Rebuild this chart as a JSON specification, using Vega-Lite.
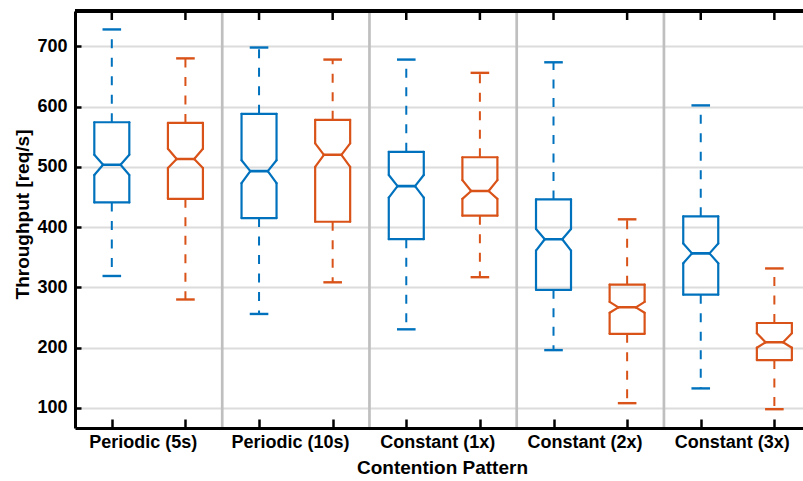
{
  "$schema": "https://vega.github.io/schema/vega-lite/v6.json",
  "width": 728,
  "height": 417,
  "autosize": {"type": "none"},
  "padding": {"left": 75, "top": 11, "right": 0, "bottom": 53},
  "background": "white",
  "config": {"view": {"stroke": null}, "font": "Liberation Sans"},
  "resolve": {"axis": {"x": "independent", "y": "independent"}},
  "data": {
    "values": [
      {"group": "Periodic (5s)", "series": "1", "lo": 319, "q1": 441, "nlo": 486.5, "med": 503.5, "nhi": 520, "q3": 574, "hi": 728},
      {"group": "Periodic (5s)", "series": "2", "lo": 280, "q1": 447, "nlo": 498, "med": 513, "nhi": 530, "q3": 573, "hi": 680},
      {"group": "Periodic (10s)", "series": "1", "lo": 256, "q1": 415, "nlo": 473, "med": 493, "nhi": 511, "q3": 588, "hi": 698},
      {"group": "Periodic (10s)", "series": "2", "lo": 308.5, "q1": 409, "nlo": 500, "med": 520, "nhi": 539, "q3": 578, "hi": 678},
      {"group": "Constant (1x)", "series": "1", "lo": 230.5, "q1": 380, "nlo": 449, "med": 468, "nhi": 486.5, "q3": 525, "hi": 678},
      {"group": "Constant (1x)", "series": "2", "lo": 317, "q1": 419, "nlo": 447, "med": 460, "nhi": 478, "q3": 516, "hi": 656},
      {"group": "Constant (2x)", "series": "1", "lo": 196, "q1": 296, "nlo": 361, "med": 380, "nhi": 397, "q3": 446, "hi": 673.5},
      {"group": "Constant (2x)", "series": "2", "lo": 108, "q1": 223, "nlo": 258, "med": 267, "nhi": 276, "q3": 304.5, "hi": 413},
      {"group": "Constant (3x)", "series": "1", "lo": 132.5, "q1": 288, "nlo": 340, "med": 356.5, "nhi": 373, "q3": 418, "hi": 602},
      {"group": "Constant (3x)", "series": "2", "lo": 98, "q1": 179.5, "nlo": 200, "med": 209, "nhi": 224, "q3": 241, "hi": 331.5}
    ]
  },
  "transform": [{"window": [{"op": "row_number", "as": "pos"}]}],
  "layer": [
    {
      "mark": {"type": "rule", "strokeWidth": 2, "strokeDash": [9, 9.5]},
      "encoding": {
        "x": {"field": "pos", "type": "quantitative", "scale": {"domain": [0.5, 10.389], "nice": false, "zero": false},
          "axis": {"orient": "bottom", "values": [1, 2, 3, 4, 5, 6, 7, 8, 9, 10],
            "labelExpr": "datum.value == 1 ? 'Periodic (5s)' : datum.value == 3 ? 'Periodic (10s)' : datum.value == 5 ? 'Constant (1x)' : datum.value == 7 ? 'Constant (2x)' : datum.value == 9 ? 'Constant (3x)' : ''",
            "labelOffset": 31, "labelFont": "Liberation Sans", "labelFontSize": 18, "labelFontWeight": "bold", "labelColor": "black", "labelPadding": 14, "labelOverlap": false, "labelFlush": false,
            "grid": false, "domain": true, "domainColor": "black", "domainWidth": 3, "ticks": true, "tickColor": "black", "tickSize": -9, "tickWidth": 2.5,
            "title": "Contention Pattern", "titleFont": "Liberation Sans", "titleFontSize": 19, "titleFontWeight": "bold", "titleColor": "black", "titleX": 367, "titleY": 45.5, "titleBaseline": "alphabetic", "zindex": 1}},
        "y": {"field": "q3", "type": "quantitative", "scale": {"domain": [66.8, 758.6], "nice": false, "zero": false},
          "axis": {"orient": "left", "values": [100, 200, 300, 400, 500, 600, 700], "labelFont": "Liberation Sans", "labelFontSize": 18, "labelFontWeight": "bold", "labelColor": "black", "labelPadding": 14, "labelFlush": false,
            "grid": true, "gridColor": "#dcdcdc", "gridWidth": 2, "domain": true, "domainColor": "black", "domainWidth": 3, "ticks": true, "tickColor": "black", "tickSize": -6, "tickWidth": 2.5,
            "title": "Throughput [req/s]", "titleFont": "Liberation Sans", "titleFontSize": 19, "titleFontWeight": "bold", "titleColor": "black", "titleX": -46.5, "titleY": 203, "titleBaseline": "alphabetic", "titleAngle": 270}},
        "y2": {"field": "hi"},
        "color": {"field": "series", "type": "nominal", "scale": {"domain": ["1", "2"], "range": ["#0072BD", "#D95319"]}, "legend": null}
      }
    },
    {
      "transform": [{"filter": "datum.series == '2' && datum.pos < 10"}],
      "mark": {"type": "rule", "xOffset": 36.8, "color": "#bfbfbf", "strokeWidth": 2.7},
      "encoding": {
        "x": {"field": "pos", "type": "quantitative", "scale": {"domain": [0.5, 10.389], "nice": false, "zero": false}, "axis": null}
      }
    },
    {
      "mark": {"type": "rule", "color": "black", "strokeWidth": 3},
      "encoding": {
        "y": {"datum": 758.6, "type": "quantitative", "scale": {"domain": [66.8, 758.6], "nice": false, "zero": false}, "axis": null}
      }
    },
    {
      "mark": {"type": "rule", "color": "black", "strokeWidth": 2.5, "y2Offset": 9},
      "encoding": {
        "x": {"field": "pos", "type": "quantitative", "scale": {"domain": [0.5, 10.389], "nice": false, "zero": false}, "axis": null},
        "y": {"datum": 758.6, "type": "quantitative", "scale": {"domain": [66.8, 758.6], "nice": false, "zero": false}, "axis": null},
        "y2": {"datum": 758.6}
      }
    },
    {
      "mark": {"type": "rule", "strokeWidth": 2, "strokeDash": [9, 9.5]},
      "encoding": {
        "x": {"field": "pos", "type": "quantitative", "scale": {"domain": [0.5, 10.389], "nice": false, "zero": false}, "axis": null},
        "y": {"field": "q1", "type": "quantitative", "scale": {"domain": [66.8, 758.6], "nice": false, "zero": false}, "axis": null},
        "y2": {"field": "lo"},
        "color": {"field": "series", "type": "nominal", "scale": {"domain": ["1", "2"], "range": ["#0072BD", "#D95319"]}, "legend": null}
      }
    },
    {
      "mark": {"type": "rule", "strokeWidth": 2.4, "xOffset": -9.3, "x2Offset": 9.3},
      "encoding": {
        "x": {"field": "pos", "type": "quantitative", "scale": {"domain": [0.5, 10.389], "nice": false, "zero": false}, "axis": null},
        "x2": {"field": "pos"},
        "y": {"field": "hi", "type": "quantitative", "scale": {"domain": [66.8, 758.6], "nice": false, "zero": false}, "axis": null},
        "color": {"field": "series", "type": "nominal", "scale": {"domain": ["1", "2"], "range": ["#0072BD", "#D95319"]}, "legend": null}
      }
    },
    {
      "mark": {"type": "rule", "strokeWidth": 2.4, "xOffset": -9.3, "x2Offset": 9.3},
      "encoding": {
        "x": {"field": "pos", "type": "quantitative", "scale": {"domain": [0.5, 10.389], "nice": false, "zero": false}, "axis": null},
        "x2": {"field": "pos"},
        "y": {"field": "lo", "type": "quantitative", "scale": {"domain": [66.8, 758.6], "nice": false, "zero": false}, "axis": null},
        "color": {"field": "series", "type": "nominal", "scale": {"domain": ["1", "2"], "range": ["#0072BD", "#D95319"]}, "legend": null}
      }
    },
    {
      "mark": {"type": "rule", "strokeWidth": 2.2, "strokeCap": "round", "xOffset": -17.5, "x2Offset": 17.5},
      "encoding": {
        "x": {"field": "pos", "type": "quantitative", "scale": {"domain": [0.5, 10.389], "nice": false, "zero": false}, "axis": null},
        "x2": {"field": "pos"},
        "y": {"field": "q3", "type": "quantitative", "scale": {"domain": [66.8, 758.6], "nice": false, "zero": false}, "axis": null},
        "color": {"field": "series", "type": "nominal", "scale": {"domain": ["1", "2"], "range": ["#0072BD", "#D95319"]}, "legend": null}
      }
    },
    {
      "mark": {"type": "rule", "strokeWidth": 2.2, "strokeCap": "round", "xOffset": -17.5, "x2Offset": 17.5},
      "encoding": {
        "x": {"field": "pos", "type": "quantitative", "scale": {"domain": [0.5, 10.389], "nice": false, "zero": false}, "axis": null},
        "x2": {"field": "pos"},
        "y": {"field": "q1", "type": "quantitative", "scale": {"domain": [66.8, 758.6], "nice": false, "zero": false}, "axis": null},
        "color": {"field": "series", "type": "nominal", "scale": {"domain": ["1", "2"], "range": ["#0072BD", "#D95319"]}, "legend": null}
      }
    },
    {
      "mark": {"type": "rule", "strokeWidth": 2.2, "strokeCap": "round", "xOffset": -17.5},
      "encoding": {
        "x": {"field": "pos", "type": "quantitative", "scale": {"domain": [0.5, 10.389], "nice": false, "zero": false}, "axis": null},
        "y": {"field": "q3", "type": "quantitative", "scale": {"domain": [66.8, 758.6], "nice": false, "zero": false}, "axis": null},
        "y2": {"field": "nhi"},
        "color": {"field": "series", "type": "nominal", "scale": {"domain": ["1", "2"], "range": ["#0072BD", "#D95319"]}, "legend": null}
      }
    },
    {
      "mark": {"type": "rule", "strokeWidth": 2.2, "strokeCap": "round", "xOffset": 17.5},
      "encoding": {
        "x": {"field": "pos", "type": "quantitative", "scale": {"domain": [0.5, 10.389], "nice": false, "zero": false}, "axis": null},
        "y": {"field": "q3", "type": "quantitative", "scale": {"domain": [66.8, 758.6], "nice": false, "zero": false}, "axis": null},
        "y2": {"field": "nhi"},
        "color": {"field": "series", "type": "nominal", "scale": {"domain": ["1", "2"], "range": ["#0072BD", "#D95319"]}, "legend": null}
      }
    },
    {
      "mark": {"type": "rule", "strokeWidth": 2.2, "strokeCap": "round", "xOffset": -17.5},
      "encoding": {
        "x": {"field": "pos", "type": "quantitative", "scale": {"domain": [0.5, 10.389], "nice": false, "zero": false}, "axis": null},
        "y": {"field": "nlo", "type": "quantitative", "scale": {"domain": [66.8, 758.6], "nice": false, "zero": false}, "axis": null},
        "y2": {"field": "q1"},
        "color": {"field": "series", "type": "nominal", "scale": {"domain": ["1", "2"], "range": ["#0072BD", "#D95319"]}, "legend": null}
      }
    },
    {
      "mark": {"type": "rule", "strokeWidth": 2.2, "strokeCap": "round", "xOffset": 17.5},
      "encoding": {
        "x": {"field": "pos", "type": "quantitative", "scale": {"domain": [0.5, 10.389], "nice": false, "zero": false}, "axis": null},
        "y": {"field": "nlo", "type": "quantitative", "scale": {"domain": [66.8, 758.6], "nice": false, "zero": false}, "axis": null},
        "y2": {"field": "q1"},
        "color": {"field": "series", "type": "nominal", "scale": {"domain": ["1", "2"], "range": ["#0072BD", "#D95319"]}, "legend": null}
      }
    },
    {
      "mark": {"type": "rule", "strokeWidth": 2.2, "strokeCap": "round", "xOffset": -17.5, "x2Offset": -8.75},
      "encoding": {
        "x": {"field": "pos", "type": "quantitative", "scale": {"domain": [0.5, 10.389], "nice": false, "zero": false}, "axis": null},
        "x2": {"field": "pos"},
        "y": {"field": "nhi", "type": "quantitative", "scale": {"domain": [66.8, 758.6], "nice": false, "zero": false}, "axis": null},
        "y2": {"field": "med"},
        "color": {"field": "series", "type": "nominal", "scale": {"domain": ["1", "2"], "range": ["#0072BD", "#D95319"]}, "legend": null}
      }
    },
    {
      "mark": {"type": "rule", "strokeWidth": 2.2, "strokeCap": "round", "xOffset": -17.5, "x2Offset": -8.75},
      "encoding": {
        "x": {"field": "pos", "type": "quantitative", "scale": {"domain": [0.5, 10.389], "nice": false, "zero": false}, "axis": null},
        "x2": {"field": "pos"},
        "y": {"field": "nlo", "type": "quantitative", "scale": {"domain": [66.8, 758.6], "nice": false, "zero": false}, "axis": null},
        "y2": {"field": "med"},
        "color": {"field": "series", "type": "nominal", "scale": {"domain": ["1", "2"], "range": ["#0072BD", "#D95319"]}, "legend": null}
      }
    },
    {
      "mark": {"type": "rule", "strokeWidth": 2.2, "strokeCap": "round", "xOffset": 17.5, "x2Offset": 8.75},
      "encoding": {
        "x": {"field": "pos", "type": "quantitative", "scale": {"domain": [0.5, 10.389], "nice": false, "zero": false}, "axis": null},
        "x2": {"field": "pos"},
        "y": {"field": "nhi", "type": "quantitative", "scale": {"domain": [66.8, 758.6], "nice": false, "zero": false}, "axis": null},
        "y2": {"field": "med"},
        "color": {"field": "series", "type": "nominal", "scale": {"domain": ["1", "2"], "range": ["#0072BD", "#D95319"]}, "legend": null}
      }
    },
    {
      "mark": {"type": "rule", "strokeWidth": 2.2, "strokeCap": "round", "xOffset": 17.5, "x2Offset": 8.75},
      "encoding": {
        "x": {"field": "pos", "type": "quantitative", "scale": {"domain": [0.5, 10.389], "nice": false, "zero": false}, "axis": null},
        "x2": {"field": "pos"},
        "y": {"field": "nlo", "type": "quantitative", "scale": {"domain": [66.8, 758.6], "nice": false, "zero": false}, "axis": null},
        "y2": {"field": "med"},
        "color": {"field": "series", "type": "nominal", "scale": {"domain": ["1", "2"], "range": ["#0072BD", "#D95319"]}, "legend": null}
      }
    },
    {
      "mark": {"type": "rule", "strokeWidth": 2.6, "strokeCap": "round", "xOffset": -8.75, "x2Offset": 8.75},
      "encoding": {
        "x": {"field": "pos", "type": "quantitative", "scale": {"domain": [0.5, 10.389], "nice": false, "zero": false}, "axis": null},
        "x2": {"field": "pos"},
        "y": {"field": "med", "type": "quantitative", "scale": {"domain": [66.8, 758.6], "nice": false, "zero": false}, "axis": null},
        "color": {"field": "series", "type": "nominal", "scale": {"domain": ["1", "2"], "range": ["#0072BD", "#D95319"]}, "legend": null}
      }
    }
  ]
}
